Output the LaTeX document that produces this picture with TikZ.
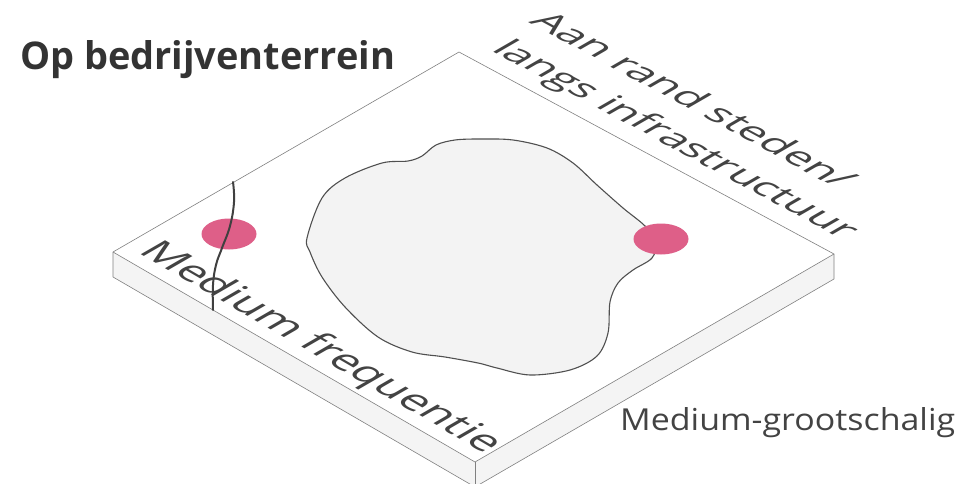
\documentclass[tikz,border=0pt]{standalone}
\usepackage{fontspec}
\setmainfont{Open Sans}
\usepackage{graphicx}
\definecolor{edgegray}{HTML}{808080}
\definecolor{sidegray}{HTML}{F4F4F4}
\definecolor{blobgray}{HTML}{F3F3F3}
\definecolor{blobline}{HTML}{505050}
\definecolor{roadline}{HTML}{404040}
\definecolor{dotpink}{HTML}{DE5F88}
\definecolor{txtdark}{HTML}{333333}
\definecolor{txtgray}{HTML}{434343}
\tikzset{
  slabedge/.style={draw=edgegray, line width=0.6pt, line join=round},
  sidefill/.style={fill=sidegray},
  blobshape/.style={fill=blobgray, draw=blobline, line width=1.1pt},
  roadstroke/.style={draw=roadline, line width=2pt, line cap=round},
  pinkdot/.style={fill=dotpink},
  lbl/.style={text=txtgray, inner sep=0pt, anchor=base west},
  titlelbl/.style={text=txtdark, inner sep=0pt, anchor=base west}
}
\begin{document}
\begin{tikzpicture}[x=1pt,y=-1pt]
\useasboundingbox (0,0) rectangle (959,484);
\clip (0,0) rectangle (959,484);
% slab corners
\coordinate (T) at (459,52);
\coordinate (L) at (113,252);
\coordinate (F) at (475,462);
\coordinate (R) at (834,254);
\coordinate (Ld) at (113,277);
\coordinate (Fd) at (475,487);
\coordinate (Rd) at (834,279);
\fill[white] (T) -- (R) -- (F) -- (L) -- cycle;
\fill[sidefill] (L) -- (F) -- (Fd) -- (Ld) -- cycle;
\fill[sidefill] (F) -- (R) -- (Rd) -- (Fd) -- cycle;
\draw[slabedge] (T) -- (R) -- (Rd) -- (Fd) -- (Ld) -- (L) -- cycle;
\draw[slabedge] (L) -- (F) -- (R);
\draw[slabedge] (F) -- (Fd);
% central blob
\draw[blobshape] plot[smooth cycle, tension=0.55] coordinates {
 (307,238) (322,198) (345,178) (382,163) (408,161) (422,156) (436,145) (455,140)
 (480,139) (513,140) (547,148) (573,163) (597,185) (623,208) (645,226) (656,242)
 (652,258) (633,270) (618,283) (610,302) (608,333) (597,356) (570,370) (530,375)
 (497,368) (478,363) (445,357) (412,352) (378,337) (345,307) (322,277) (310,252)};
% pink dots
\fill[pinkdot] (229,234) ellipse [x radius=27.5pt, y radius=15.5pt];
\fill[pinkdot] (661,239) ellipse [x radius=27.5pt, y radius=15.5pt];
% road
\draw[roadstroke] plot[smooth, tension=0.7] coordinates {
 (233,182) (234,202) (230,226) (222,248) (216,265) (213,285) (213,310)};
% texts
\node[titlelbl] (title) at (20,70) {\resizebox{375pt}{29pt}{\bfseries Op bedrijventerrein}};
\node[lbl] (schaal) at (620,430) {\resizebox{335pt}{23pt}{Medium-grootschalig}};
\begin{scope}[shift={(528,22)}, cm={0.880,-0.474,0.866,0.5,(0,0)}]
  \node[lbl, transform shape] (rand) at (0,0) {\resizebox{353pt}{27pt}{Aan rand steden/}};
\end{scope}
\begin{scope}[shift={(490,50)}, cm={0.880,-0.474,0.866,0.5,(0,0)}]
  \node[lbl, transform shape] (langs) at (0,0) {\resizebox{400pt}{27pt}{langs infrastructuur}};
\end{scope}
\begin{scope}[shift={(137,252)}, cm={0.865,-0.502,0.866,0.5,(0,0)}]
  \node[lbl, transform shape] (freq) at (0,0) {\resizebox{402pt}{30pt}{Medium frequentie}};
\end{scope}
\end{tikzpicture}
\end{document}
